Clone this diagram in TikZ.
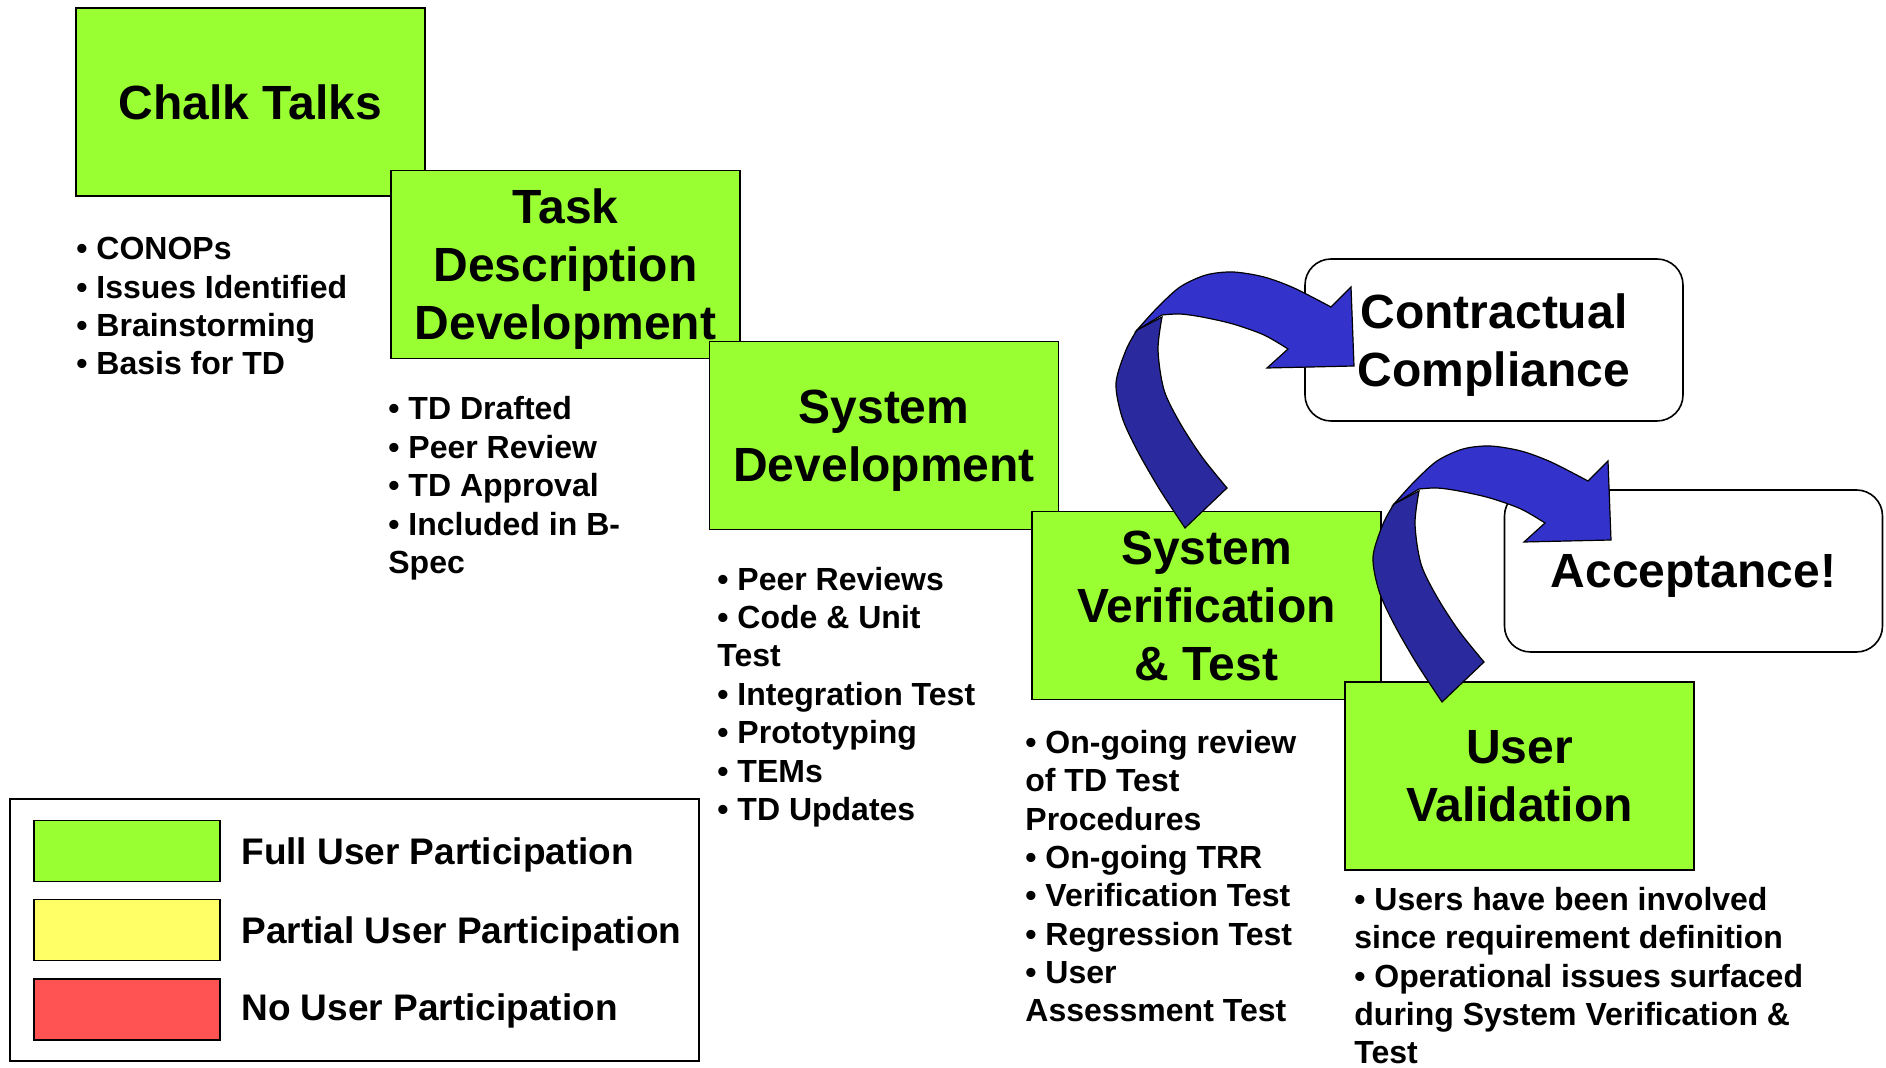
\documentclass[tikz,border=0pt]{standalone}
\usepackage{fontspec}
\setmainfont{Liberation Sans}
\usepackage{tikz}

\definecolor{fullgreen}{RGB}{153,255,51}
\definecolor{partyellow}{RGB}{255,255,102}
\definecolor{nored}{RGB}{255,82,82}
\definecolor{arrowblue}{RGB}{51,51,204}
\definecolor{arrowdark}{RGB}{42,42,158}

\begin{document}
\begin{tikzpicture}[x=0.5pt,y=-0.5pt,
    phase/.style={shape=rectangle,draw=black,line width=0.8pt,fill=fullgreen,minimum width=174.5pt,minimum height=94pt,inner sep=0pt,text depth=0pt,align=center,font=\fontsize{24}{29}\selectfont\bfseries},
    goal/.style={shape=rectangle,rounded corners=13pt,draw=black,line width=0.8pt,fill=white,minimum width=189pt,minimum height=81pt,inner sep=0pt,text depth=0pt,align=center,font=\fontsize{24}{29}\selectfont\bfseries},
    bullets/.style={anchor=base west,align=left,inner sep=0pt,font=\fontsize{16}{19.2}\selectfont\bfseries},
    swatch/.style={shape=rectangle,draw=black,line width=0.8pt,minimum width=93pt,minimum height=30.5pt,inner sep=0pt},
    key/.style={anchor=base west,inner sep=0pt,font=\fontsize{18.5}{22}\selectfont\bfseries}]
        \useasboundingbox (0,0) rectangle (1886,1068);

        % phases, each one laid over the one before
        \node[phase] (chalk)   at (250.5, 102)   {Chalk Talks};
        \node[phase] (task)    at (565.5, 264.5) {Task\\Description\\Development};
        \node[phase] (sysdev)  at (884, 435.5)   {System\\Development};
        \node[phase] (sysver)  at (1206.5, 605.5) {System\\Verification\\\& Test};
        \node[phase] (userval) at (1519.5, 776)  {User\\Validation};

        \node[goal] (contract) at (1494, 340)   {Contractual\\Compliance};
        \node[goal] (accept)   at (1693.5, 571) {Acceptance!};

        % what happens in each phase (placed by the baseline of the last line)
        \node[bullets] (chalkitems) at (76, 375)    {• CONOPs\\• Issues Identified\\• Brainstorming\\• Basis for TD};
        \node[bullets] (taskitems)  at (388, 573.5) {• TD Drafted\\• Peer Review\\• TD Approval\\• Included in B-\\Spec};
        \node[bullets] (devitems)   at (717, 820.5) {• Peer Reviews\\• Code \& Unit\\Test\\• Integration Test\\• Prototyping\\• TEMs\\• TD Updates};
        \node[bullets] (veritems)   at (1025, 1022) {• On-going review\\of TD Test\\Procedures\\• On-going TRR\\• Verification Test\\• Regression Test\\• User\\Assessment Test};
        \node[bullets] (valitems)   at (1354, 1064) {• Users have been involved\\since requirement definition\\• Operational issues surfaced\\during System Verification \&\\Test};

        % legend
        \node[shape=rectangle,draw=black,line width=0.8pt,minimum width=344.5pt,minimum height=131pt] (legend) at (354.5, 930) {};
        \node[swatch,fill=fullgreen]  (fullbox) at (127, 851) {};
        \node[swatch,fill=partyellow] (partbox) at (127, 930) {};
        \node[swatch,fill=nored]      (nobox)   at (127, 1009.5) {};
        \node[key] (fulltext) at (241, 865)  {Full User Participation};
        \node[key] (parttext) at (241, 943)  {Partial User Participation};
        \node[key] (notext)   at (241, 1021) {No User Participation};

        % curved arrows from the test phases up to their goals
        \coordinate (arrowA) at (1185, 528);
        \coordinate (arrowB) at (1442, 702);
        \foreach \a in {arrowA, arrowB} {
        \begin{scope}[shift={(\a)}]
	\filldraw[fill=arrowdark,draw=black,line width=0.6pt] (-48,-198)
	  -- plot[smooth] coordinates {(-48,-198) (-59,-178) (-69,-145) (-63,-111) (-48,-78) (-25,-38) (0,0)}
	  -- (42,-40)
	  -- plot[smooth] coordinates {(42,-40) (17,-71) (-5,-105) (-21,-138) (-27,-178) (-23,-211)}
	  -- cycle;
	\filldraw[fill=arrowblue,draw=black,line width=0.6pt] (-48,-198)
	  -- plot[smooth] coordinates {(-48,-198) (-28,-220) (-5,-241) (21,-253) (48,-256) (79,-251) (109,-240) (146,-221)}
	  -- (166,-241) -- (169,-162) -- (82,-160) -- (103,-179)
	  -- plot[smooth] coordinates {(103,-179) (79,-193) (48,-204) (17,-211) (-5,-214) (-23,-213)}
	  -- cycle;
        \end{scope}
        }
\end{tikzpicture}
\end{document}
